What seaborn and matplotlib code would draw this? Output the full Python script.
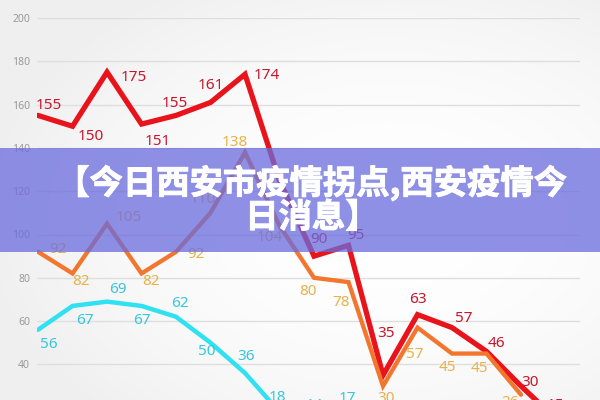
import numpy as np
import pandas as pd
import matplotlib
matplotlib.use("Agg")
import matplotlib.pyplot as plt
import matplotlib.patheffects as pe
import seaborn as sns
from matplotlib.patches import Rectangle

# ---------------- data ----------------
title_lines = ["【今日西安市疫情拐点,西安疫情今", "日消息】"]
y_ticks = [20, 40, 60, 80, 100, 120, 140, 160, 180, 200]
red_values = [155, 150, 175, 151, 155, 161, 174, 125, 90, 95, 35, 63, 57, 46, 30, 15]
orange_values = [92, 82, 105, 82, 92, 110, 138, 104, 80, 78, 30, 57, 45, 45, 26]
cyan_values = [56, 67, 69, 67, 62, 50, 36, 18, 14, 17]

# label offsets in pixels (dx, dy-down); None = no label
red_offsets = [(11, -10), (18, 10), (27, 5), (16, 17), (-1, -12), (0, -17), (22, 1), None,
               (5, -17), (7, -10), (3, -42), (0, -15), (12, -9), (10, -8), (9, -4), (0, -13)]
orange_offsets = [(20, -2), (8, 8), (22, -6), (9, 8), (20, 3), (-8, -13), (-10, -10), (-10, 12),
                  (-6, 14), (-7, 20), (3, 12), (-3, 27), (-5, 14), (-7, 15), (-11, 8)]
cyan_offsets = [(11, 15), (12, 15), (11, -12), (0, 15), (4, -13), (-4, 9), (1, -17), (-2, -15),
                (0, -15), (-1, -16)]

sns.set_theme(style="white")
plt.rcParams["font.family"] = ["Noto Sans", "Noto Sans CJK SC", "DejaVu Sans"]

fig = plt.figure(figsize=(6, 4), dpi=100)
fig.patch.set_facecolor("#f7f7f7")

# subtle background gradient
bg = fig.add_axes([0, 0, 1, 1], zorder=-2)
yy, xx = np.mgrid[0:1:200j, 0:1:300j]
g = 1 - 0.06 * np.clip(((xx - 0.65) ** 2 + (yy - 0.55) ** 2) * 2.2, 0, 1)
bg.imshow(np.dstack([g, g, g]), extent=[0, 1, 0, 1], aspect="auto")
bg.axis("off")

ax = fig.add_axes([37 / 600, 1 - 451 / 400, 543 / 600, 433 / 400])
ax.set_facecolor("none")

series = [
    (red_values, red_offsets, "#e8131b", "#c9162c", 3.8, "bold"),
    (orange_values, orange_offsets, "#f3762f", "#e8b24a", 3.1, "semibold"),
    (cyan_values, cyan_offsets, "#2fe1f1", "#36c8da", 3.2, "semibold"),
]

for vals, offs, lc, tc, lw, fw in series:
    df = pd.DataFrame({"x": np.arange(len(vals)), "y": vals})
    sns.lineplot(data=df, x="x", y="y", ax=ax, color=lc, linewidth=lw,
                 solid_joinstyle="miter", zorder=3)
for vals, offs, lc, tc, lw, fw in series:
    for i, v in enumerate(vals):
        if offs[i] is None:
            continue
        dx, dy = offs[i]
        ax.annotate(str(v), (i, v), xytext=(dx, -dy), textcoords="offset pixels",
                    ha="center", va="center", color=tc, fontsize=11,
                    fontweight=fw, zorder=4, annotation_clip=False)

ax.set_xlim(-0.03, 15.71)
ax.set_ylim(0, 200)
ax.set_yticks(y_ticks)
ax.set_yticklabels([str(t) for t in y_ticks])
ax.set_xticks([])
ax.set_xlabel("")
ax.set_ylabel("")
ax.grid(axis="y", color="#dedede", linewidth=1.0)
ax.set_axisbelow(True)
for s in ax.spines.values():
    s.set_visible(False)
ax.tick_params(axis="y", length=0, pad=5, labelsize=7.5, labelcolor="#9a9a9a")

# banner overlay
fig.add_artist(Rectangle((0, 1 - 252 / 400), 1, 104 / 400, transform=fig.transFigure,
                         facecolor=(0.41, 0.42, 0.87), alpha=0.75, edgecolor="none",
                         zorder=5))
thick = [pe.withStroke(linewidth=0.7, foreground="white")]
for k, (yp, line) in enumerate(zip([183, 218], title_lines)):
    fig.text(0.52, 1 - yp / 400, line, ha="center", va="center", color="white",
             fontsize=24, fontweight="heavy", family=["Noto Sans CJK SC", "DejaVu Sans"],
             zorder=6, path_effects=thick)

fig.savefig("out.png", dpi=100)
